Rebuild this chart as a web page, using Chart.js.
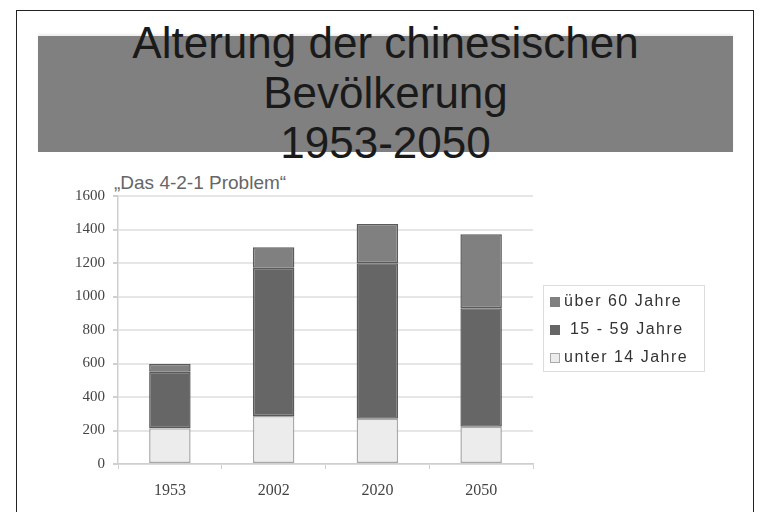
<!DOCTYPE html>
<html>
<head>
<meta charset="utf-8">
<script src="https://cdn.jsdelivr.net/npm/chart.js@4.4.1/dist/chart.umd.min.js"></script>
<style>
  html, body { margin: 0; padding: 0; background: #fff; }
  #wrap { position: relative; width: 760px; height: 512px; overflow: hidden; }
  #frame { position: absolute; left: 16px; top: 10px; width: 738px; height: 520px;
    border: 1.5px solid #222; box-sizing: border-box; }
  #banner { position: absolute; left: 38px; top: 36px; width: 695px; height: 116px;
    background: #808080; box-shadow: 0 -2px 2px #eee; }
  #title { position: absolute; left: 38px; top: 18px; width: 695px; text-align: center;
    font: 44px "Liberation Sans", Arial, sans-serif; line-height: 50px; color: #1a1a1a; }
  #subtitle { position: absolute; left: 114px; top: 172px;
    font: 19px "Liberation Sans", Arial, sans-serif; color: #666; }
  #legend { position: absolute; left: 543px; top: 285px; width: 162px; height: 87px;
    border: 1px solid #ddd; box-sizing: border-box; padding-top: 6px; }
  .item { height: 28px; line-height: 28px; font: 16px "Liberation Sans", Arial, sans-serif;
    letter-spacing: 1.5px; color: #333; white-space: nowrap; }
  .sw { display: inline-block; width: 10px; height: 10px; margin: 0 4px 0 6px;
    box-sizing: border-box; vertical-align: -1px; }
  canvas { position: absolute; left: 0; top: 0; }
</style>
</head>
<body>
<div id="wrap">
  <div id="frame"></div>
  <div id="banner"></div>
  <div id="title">Alterung der chinesischen<br>Bevölkerung<br>1953-2050</div>
  <div id="subtitle">„Das 4-2-1 Problem“</div>
  <canvas id="chart" width="760" height="512"></canvas>
  <div id="legend"></div>
</div>
<script>
const years = ["1953", "2002", "2020", "2050"];
const under14 = [213, 287, 270, 223];
const age15to59 = [338, 885, 928, 707];
const over60 = [46, 122, 235, 441];
const seriesNames = ["unter 14 Jahre", " 15 - 59 Jahre", "über 60 Jahre"];
const seriesColors = ["#ececec", "#666666", "#808080"];
const yTicks = [0, 200, 400, 600, 800, 1000, 1200, 1400, 1600];

const ctx = document.getElementById("chart");

const chart = new Chart(ctx, {
  type: "bar",
  data: {
    labels: years,
    datasets: [under14, age15to59, over60].map((vals, i) => ({
      label: seriesNames[i],
      data: vals,
      backgroundColor: seriesColors[i],
      borderColor: i === 0 ? "#a8a8a8" : "#5a5a5a",
      borderWidth: 1.5,
      borderSkipped: false,
      categoryPercentage: 1,
      barPercentage: 0.4,
    })),
  },
  options: {
    responsive: false,
    animation: false,
    layout: {
      padding: { left: 0, top: 196, right: 227, bottom: 0 },
    },
    scales: {
      x: {
        stacked: true,
        afterFit: (scale) => { scale.height = 48; },
        ticks: {
          color: "#444",
          padding: 12,
          font: { family: "Liberation Serif", size: 16 },
        },
        grid: {
          offset: true,
          drawOnChartArea: false,
          tickLength: 5,
          tickColor: "#cfcfcf",
        },
        border: { color: "#cfcfcf", width: 1.5 },
      },
      y: {
        stacked: true,
        min: 0,
        max: 1600,
        afterFit: (scale) => { scale.width = 118; },
        afterBuildTicks: (scale) => {
          scale.ticks = yTicks.map((v) => ({ value: v }));
        },
        ticks: {
          color: "#444",
          padding: 8,
          font: { family: "Liberation Serif", size: 15 },
          callback: (v) => String(v),
        },
        grid: {
          color: "#e6e6e6",
          lineWidth: 2,
          tickLength: 5,
          tickColor: "#cfcfcf",
        },
        border: { color: "#cfcfcf", width: 1.5 },
      },
    },
    plugins: {
      legend: { display: false },
      tooltip: { enabled: false },
    },
  },
});

// legend, top to bottom like the original
const legend = document.getElementById("legend");
[2, 1, 0].forEach((i) => {
  const row = document.createElement("div");
  row.className = "item";
  const sw = document.createElement("span");
  sw.className = "sw";
  sw.style.background = seriesColors[i];
  sw.style.border = i === 0 ? "1px solid #aaa" : "none";
  row.appendChild(sw);
  row.appendChild(document.createTextNode(seriesNames[i]));
  legend.appendChild(row);
});
</script>
</body>
</html>
